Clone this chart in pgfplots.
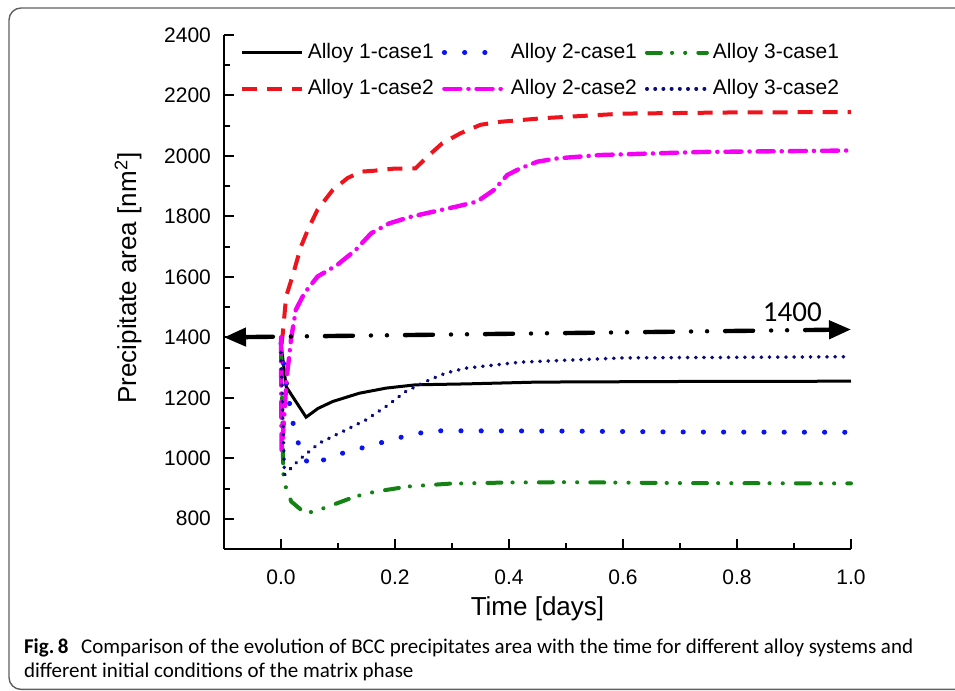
\documentclass[border=0pt]{standalone}
\usepackage{fontspec}
\setmainfont{Liberation Sans}
\newfontfamily\carlito{Carlito}
\usepackage{pgfplots}
\pgfplotsset{compat=1.18}
\usetikzlibrary{arrows.meta}

\definecolor{cred}{RGB}{237,20,30}
\definecolor{cblue}{RGB}{10,20,240}
\definecolor{cgreen}{RGB}{20,130,20}
\definecolor{cmag}{RGB}{245,0,245}
\definecolor{cnavy}{RGB}{10,10,120}

\begin{document}
\begin{tikzpicture}
\useasboundingbox (0,0) rectangle (477.5pt,345.5pt);
% outer frame of the figure
\draw[gray!75!black, line width=0.7pt, rounded corners=6pt]
  (4.5pt,0.8pt) rectangle (495pt,341.5pt);

\begin{axis}[
  at={(112pt,71pt)}, anchor=south west,
  scale only axis, width=313.5pt, height=257pt,
  xmin=-0.1, xmax=1.0, ymin=700, ymax=2400,
  clip=false,
  axis x line=bottom, axis y line=left,
  axis line style={-, line width=1pt},
  every tick/.style={black, line width=1pt},
  tick align=inside,
  major tick length=5pt, minor tick length=3pt,
  xtick={0,0.2,0.4,0.6,0.8,1.0},
  minor xtick={0.1,0.3,0.5,0.7,0.9},
  ytick={800,1000,...,2400},
  minor ytick={900,1100,...,2300},
  xticklabel style={/pgf/number format/fixed, /pgf/number format/zerofill,
    /pgf/number format/precision=1, yshift=-7pt},
  yticklabel style={/pgf/number format/1000 sep={}, xshift=-3pt},
  /pgf/number format/assume math mode=true,
  tick label style={font=\fontsize{10.5}{12}\selectfont},
  xlabel={Time [days]},
  ylabel={Precipitate area [nm\textsuperscript{2}]},
  label style={font=\fontsize{13}{15}\selectfont},
  x label style={at={(axis description cs:0.5,-0.116)}, anchor=center},
  y label style={at={(axis description cs:-0.153,0.527)}, anchor=center, rotate=0},
  legend style={draw=none, fill=none, font=\fontsize{10.5}{12}\selectfont,
    at={(axis description cs:0.015,1.0)}, anchor=north west,
    /tikz/every even column/.append style={column sep=2pt},
    nodes={inner xsep=2pt},
    row sep=5pt},
  legend columns=3,
  legend image code/.code={\draw[#1] (0pt,0pt) -- (30pt,0pt);},
]
\addplot[black, line width=1.5pt] coordinates {
  (0,1380) (0.009,1237) (0.044,1136) (0.065,1165) (0.091,1188) (0.137,1215)
  (0.184,1232) (0.236,1243) (0.324,1246) (0.45,1252) (0.7,1254) (1.0,1255)
};
\addlegendentry{Alloy 1-case1}
\addplot[cblue, line width=2.5pt, line cap=round, dash pattern=on 0.1pt off 10pt] coordinates {
  (0,1380) (0.006,1290) (0.013,1204) (0.019,1134) (0.027,1068) (0.040,1000)
  (0.053,976) (0.088,1006) (0.123,1025) (0.158,1042) (0.193,1061) (0.228,1078)
  (0.266,1091) (0.30,1091) (0.5,1090) (0.7,1087) (1.0,1086)
};
\addlegendentry{Alloy 2-case1}
\addplot[cgreen, line width=2pt, line cap=round,
  dash pattern=on 7pt off 5.5pt on 0.1pt off 6.5pt on 0.1pt off 6.5pt] coordinates {
  (0,1370) (0.004,950) (0.008,907) (0.018,857) (0.035,830) (0.055,821)
  (0.091,846) (0.131,874) (0.166,890) (0.225,907) (0.295,916) (0.4,920)
  (0.5,921) (0.7,918) (1.0,917)
};
\addlegendentry{Alloy 3-case1}
\addplot[cred, line width=2pt, dash pattern=on 7.5pt off 5pt] coordinates {
  (0.001,1380) (0.003,1410) (0.009,1535) (0.020,1601) (0.035,1700) (0.047,1755)
  (0.064,1822) (0.091,1888) (0.117,1927) (0.140,1948) (0.163,1951) (0.198,1958)
  (0.236,1959) (0.257,1998) (0.283,2042) (0.315,2075) (0.350,2103) (0.385,2113)
  (0.461,2125) (0.6,2140) (0.8,2144) (1.0,2145)
};
\addlegendentry{Alloy 1-case2}
\addplot[cmag, line width=2.2pt, line cap=round,
  dash pattern=on 8pt off 4pt on 0.1pt off 4pt] coordinates {
  (0,1400) (0.001,1020) (0.006,1150) (0.010,1270) (0.014,1330) (0.0175,1392)
  (0.026,1491) (0.041,1546) (0.064,1601) (0.099,1640) (0.131,1689) (0.158,1744)
  (0.190,1777) (0.228,1799) (0.268,1816) (0.309,1833) (0.344,1849) (0.374,1888)
  (0.397,1937) (0.420,1959) (0.450,1981) (0.485,1992) (0.56,2003) (0.735,2013)
  (1.0,2018)
};
\addlegendentry{Alloy 2-case2}
\addplot[cnavy, line width=1.9pt, line cap=round, dash pattern=on 0.1pt off 4pt] coordinates {
  (0,1350) (0.006,945) (0.032,995) (0.067,1050) (0.114,1094) (0.149,1127)
  (0.184,1171) (0.219,1221) (0.254,1254) (0.289,1282) (0.324,1298) (0.42,1318)
  (0.6,1332) (1.0,1336)
};
\addlegendentry{Alloy 3-case2}
% reference arrow at 1400
\addplot[black, line width=2.2pt, forget plot, line cap=round,
  {Triangle[length=11pt, width=9pt]}-{Triangle[length=11pt, width=9pt]},
  dash pattern=on 14pt off 9pt on 0.01pt off 8pt on 0.01pt off 9pt] coordinates {
  (-0.1,1400) (1.0,1426)
};
\node[font=\carlito\fontsize{14.5}{16}\selectfont] at (axis cs:0.897,1483) {1400};
\end{axis}

\node[anchor=base west, font=\carlito\fontsize{10.5}{12}\selectfont] at (8.5pt,18.5pt)
  {\textbf{Fig.\,8}\hspace{0.6em}Comparison of the evolution of BCC precipitates area with the time for different alloy systems and};
\node[anchor=base west, font=\carlito\fontsize{10.5}{12}\selectfont] at (8.5pt,6.5pt)
  {different initial conditions of the matrix phase};
\end{tikzpicture}
\end{document}
